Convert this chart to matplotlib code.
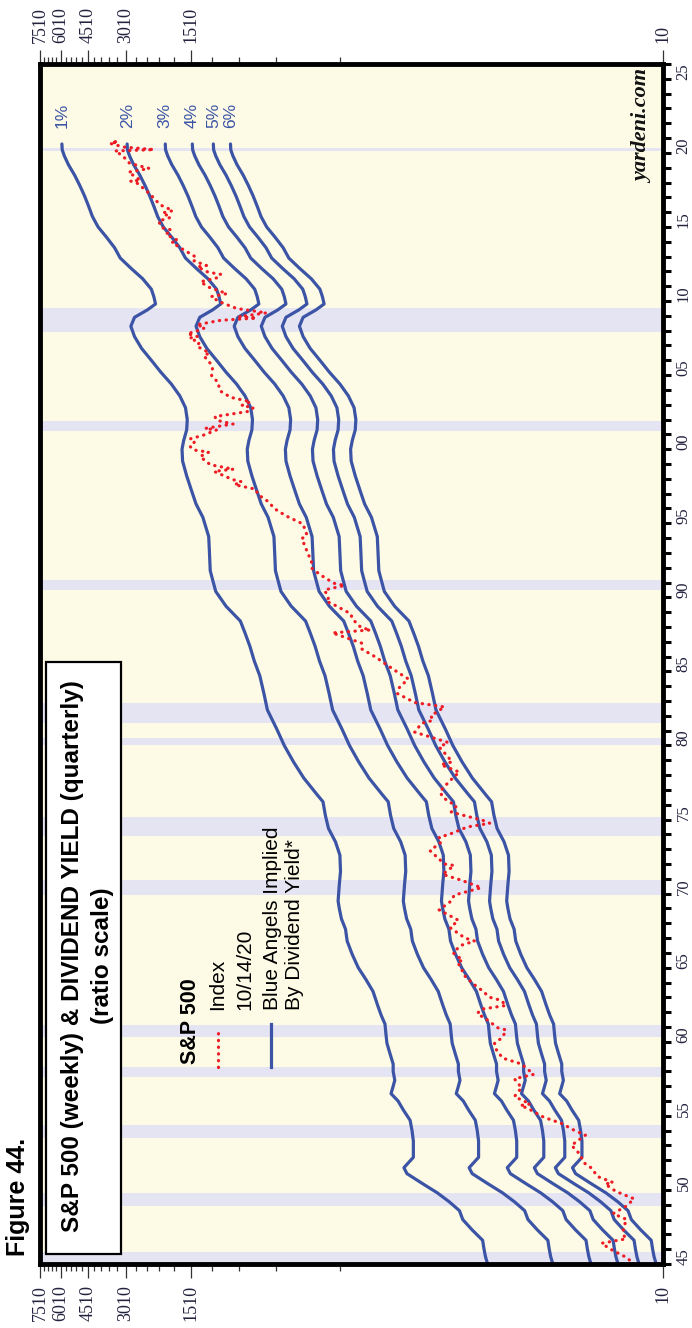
import matplotlib
matplotlib.use("Agg")
import matplotlib.pyplot as plt
from matplotlib.ticker import FixedLocator, FixedFormatter, NullFormatter
from matplotlib.patches import Rectangle
from matplotlib.lines import Line2D

# S&P 500 dividends per share
div_year = [1945.0, 1945.5, 1946.0, 1946.6, 1947.3, 1948.0, 1948.6, 1949.2, 1949.8, 1950.4,
            1951.1, 1951.5, 1952.2, 1953.3, 1954.0, 1954.7, 1955.4, 1956.0, 1956.5, 1957.0,
            1957.4, 1958.0, 1958.5, 1959.2, 1959.9, 1960.5, 1961.2, 1961.8, 1962.5, 1963.4,
            1964.2, 1965.0, 1965.9, 1966.8, 1967.6, 1968.3, 1969.0, 1969.5, 1970.6, 1971.5,
            1972.6, 1973.5, 1974.4, 1975.3, 1976.2, 1976.7, 1977.8, 1978.9, 1980.0, 1981.1,
            1982.4, 1983.5, 1984.7, 1985.7, 1986.7, 1987.6, 1988.4, 1989.4, 1990.4, 1991.2,
            1991.8, 1993.0, 1994.1, 1995.4, 1996.3, 1997.2, 1998.2, 1999.2, 2000.0, 2000.6,
            2001.3, 2002.0, 2002.8, 2003.6, 2004.4, 2005.2, 2006.0, 2006.8, 2007.6, 2008.3,
            2008.9, 2009.4, 2009.8, 2010.3, 2010.8, 2011.5, 2012.2, 2012.9, 2013.6, 2014.3,
            2015.0, 2015.7, 2016.4, 2017.1, 2017.8, 2018.5, 2019.2, 2019.8, 2020.2, 2020.6]
div_value = [0.645, 0.66, 0.67, 0.68, 0.76, 0.84, 0.87, 0.97, 1.10, 1.28,
             1.52, 1.57, 1.42, 1.42, 1.44, 1.47, 1.58, 1.67, 1.80, 1.76,
             1.73, 1.76, 1.76, 1.82, 1.88, 1.90, 1.92, 2.00, 2.08, 2.18,
             2.35, 2.55, 2.72, 2.87, 2.92, 3.05, 3.12, 3.16, 3.12, 3.08,
             3.10, 3.25, 3.50, 3.62, 3.71, 3.96, 4.55, 5.08, 5.60, 6.06,
             6.70, 6.95, 7.26, 7.70, 8.07, 8.50, 8.93, 10.4, 11.6, 12.0,
             12.3, 12.4, 12.5, 13.3, 14.3, 15.0, 15.8, 16.5, 16.6, 16.3,
             15.8, 15.7, 16.0, 17.0, 18.6, 20.8, 23.0, 25.5, 27.5, 28.6,
             27.5, 24.0, 22.0, 22.4, 23.0, 25.2, 28.5, 32.0, 34.0, 37.0,
             40.5, 43.0, 44.8, 46.8, 49.2, 52.0, 55.5, 58.0, 59.3, 59.5]
yields = [1, 2, 3, 4, 5, 6]

# S&P 500 index
idx_year = [1945.0, 1945.5, 1946.0, 1946.4, 1946.7, 1947.0, 1947.5, 1948.0, 1948.4, 1948.9,
            1949.4, 1949.9, 1950.4, 1950.5, 1950.9, 1951.5, 1951.8, 1952.5, 1952.9, 1953.0,
            1953.7, 1954.0, 1954.5, 1954.9, 1955.5, 1955.7, 1955.8, 1956.3, 1956.9, 1957.5,
            1957.8, 1958.0, 1958.5, 1958.9, 1959.5, 1959.9, 1960.3, 1960.8, 1960.95, 1961.5,
            1961.9, 1962.2, 1962.45, 1962.8, 1963.0, 1963.5, 1963.9, 1964.5, 1964.9, 1965.4,
            1965.5, 1966.0, 1966.5, 1966.8, 1967.0, 1967.7, 1968.2, 1968.9, 1969.5, 1969.9,
            1970.4, 1970.9, 1971.3, 1971.9, 1972.0, 1972.9, 1973.5, 1973.8, 1974.0, 1974.5,
            1974.75, 1974.95, 1975.5, 1975.9, 1976.5, 1976.9, 1977.5, 1977.9, 1978.2, 1978.7,
            1978.9, 1979.5, 1979.9, 1980.2, 1980.9, 1981.5, 1981.7, 1982.0, 1982.6, 1982.9,
            1983.5, 1983.9, 1984.5, 1984.9, 1985.5, 1985.95, 1986.5, 1986.9, 1987.6, 1987.8,
            1987.95, 1988.5, 1988.9, 1989.5, 1989.75, 1989.95, 1990.5, 1990.8, 1990.95, 1991.5,
            1991.95, 1992.5, 1992.95, 1993.5, 1993.95, 1994.2, 1994.95, 1995.5, 1995.95, 1996.5,
            1996.95, 1997.3, 1997.6, 1997.8, 1997.95, 1998.5, 1998.65, 1998.95, 1999.5, 1999.8,
            1999.95, 2000.2, 2000.5, 2000.7, 2000.95, 2001.3, 2001.4, 2001.7, 2001.95, 2002.2,
            2002.55, 2002.8, 2002.95, 2003.2, 2003.5, 2003.95, 2004.5, 2004.95, 2005.5, 2005.95,
            2006.3, 2006.5, 2006.95, 2007.2, 2007.5, 2007.6, 2007.8, 2008.0, 2008.2, 2008.4,
            2008.7, 2008.85, 2008.95, 2009.2, 2009.5, 2009.95, 2010.3, 2010.5, 2010.95, 2011.3,
            2011.6, 2011.8, 2011.95, 2012.3, 2012.4, 2012.7, 2012.95, 2013.5, 2013.95, 2014.1,
            2014.5, 2014.8, 2014.95, 2015.4, 2015.65, 2015.95, 2016.1, 2016.5, 2016.95, 2017.5,
            2017.95, 2018.1, 2018.15, 2018.7, 2018.95, 2019.3, 2019.6, 2019.95, 2020.13, 2020.22,
            2020.4, 2020.65, 2020.73, 2020.79]
idx_value = [13.5, 15.0, 17.5, 19.2, 14.8, 15.3, 15.2, 14.7, 17.0, 14.8,
             13.6, 16.5, 18.5, 17.0, 20.0, 21.5, 23.0, 24.5, 26.0, 26.5,
             22.8, 25.5, 29.5, 35.5, 42.0, 45.5, 41.0, 48.5, 45.0, 48.5,
             39.5, 41.0, 45.0, 55.0, 59.0, 59.9, 55.0, 53.0, 58.0, 65.0,
             72.0, 69.0, 53.0, 56.0, 63.0, 69.0, 75.0, 83.0, 85.0, 89.0,
             84.0, 93.0, 86.0, 74.0, 82.0, 96.0, 88.0, 108.0, 95.0, 92.0,
             69.0, 85.0, 104.0, 92.0, 102.0, 119.0, 105.0, 108.0, 97.0, 80.0,
             63.0, 68.0, 95.0, 90.0, 104.0, 107.0, 98.0, 92.0, 87.0, 106.0,
             94.0, 102.0, 108.0, 98.0, 140.0, 130.0, 115.0, 118.0, 102.0, 140.0,
             168.0, 165.0, 150.0, 166.0, 191.0, 211.0, 245.0, 245.0, 336.0, 224.0,
             247.0, 270.0, 277.0, 330.0, 359.0, 350.0, 365.0, 295.0, 330.0, 380.0,
             417.0, 420.0, 436.0, 450.0, 466.0, 440.0, 459.0, 550.0, 616.0, 670.0,
             741.0, 760.0, 950.0, 880.0, 970.0, 1180.0, 960.0, 1229.0, 1370.0, 1250.0,
             1469.0, 1527.0, 1450.0, 1520.0, 1320.0, 1150.0, 1300.0, 965.0, 1148.0, 1170.0,
             820.0, 777.0, 880.0, 800.0, 990.0, 1112.0, 1130.0, 1212.0, 1200.0, 1248.0,
             1320.0, 1240.0, 1418.0, 1380.0, 1530.0, 1410.0, 1565.0, 1400.0, 1300.0, 1420.0,
             1100.0, 752.0, 903.0, 677.0, 930.0, 1115.0, 1217.0, 1030.0, 1258.0, 1363.0,
             1120.0, 1099.0, 1258.0, 1410.0, 1280.0, 1460.0, 1426.0, 1650.0, 1848.0, 1740.0,
             1970.0, 1860.0, 2059.0, 2130.0, 1870.0, 2044.0, 1830.0, 2100.0, 2239.0, 2450.0,
             2674.0, 2870.0, 2580.0, 2930.0, 2351.0, 2900.0, 3020.0, 3231.0, 3386.0, 2237.0,
             3100.0, 3580.0, 3270.0, 3489.0]

recession_start = [1945.1, 1948.9, 1953.5, 1957.6, 1960.3, 1969.9, 1973.9, 1980.0, 1981.5, 1990.5, 2001.2, 2007.9, 2020.1]
recession_end = [1945.8, 1949.8, 1954.4, 1958.3, 1961.1, 1970.9, 1975.2, 1980.5, 1982.9, 1991.2, 2001.9, 2009.5, 2020.35]

value_ticks = [10, 1510, 3010, 4510, 6010, 7510]
minor_value_ticks = [10 + 300 * k for k in range(1, 25) if k % 5]
year_label_pos = [1945.5 + 5 * i for i in range(17)]
year_labels = ['45', '50', '55', '60', '65', '70', '75', '80', '85', '90',
               '95', '00', '05', '10', '15', '20', '25']

W, H = 692, 1328
BLUE = '#3c54a5'
RED = '#ee1c25'
LABEL = '#22223f'
SANS = 'Liberation Sans'


def fx(px):
    return px / W


def fy(py):
    return 1 - py / H


fig = plt.figure(figsize=(W / 100, H / 100), dpi=100)
ax = fig.add_axes([fx(40), fy(1264), (663 - 40) / W, 1200 / H])
ax.set_facecolor('#fdfbe6')

for s, e in zip(recession_start, recession_end):
    ax.axhspan(s, e, color='#e5e4f3', lw=0, zorder=0.5)

for y in yields:
    ax.plot([d * 100 / y for d in div_value], div_year, color=BLUE, lw=2.3,
            solid_capstyle='round', zorder=2)
    ax.text(div_value[-1] * 100 / y, 2022.5, f'{y}%', rotation=90, ha='center', va='center',
            color=BLUE, fontsize=12.5, family=SANS)

ax.plot(idx_value, idx_year, color=RED, lw=2.3, linestyle=(0, (0.1, 2.0)),
        dash_capstyle='round', zorder=3)

ax.set_xscale('log')
ax.set_xlim(7510, 10)
ax.set_ylim(1945, 2026)

ax.xaxis.set_major_locator(FixedLocator(value_ticks))
ax.xaxis.set_major_formatter(FixedFormatter([str(v) for v in value_ticks]))
ax.xaxis.set_minor_locator(FixedLocator(minor_value_ticks))
ax.xaxis.set_minor_formatter(NullFormatter())
ax.tick_params(axis='x', which='both', top=True, bottom=True, labeltop=True, labelbottom=True,
               direction='out', color='#333333', labelcolor=LABEL, labelrotation=90)
ax.tick_params(axis='x', which='major', length=10, width=0.9, pad=5, labelsize=13)
ax.tick_params(axis='x', which='minor', length=5, width=0.9)

ax.yaxis.set_major_locator(FixedLocator(range(1945, 2027)))
ax.yaxis.set_major_formatter(NullFormatter())
ax.yaxis.set_minor_locator(FixedLocator(year_label_pos))
ax.yaxis.set_minor_formatter(FixedFormatter(year_labels))
ax.tick_params(axis='y', which='both', left=False, right=True, labelleft=False, labelright=True)
ax.tick_params(axis='y', which='major', direction='out', length=5.5, width=2.2, color='black')
ax.tick_params(axis='y', which='minor', length=0, pad=9, labelsize=12, labelcolor=LABEL,
               labelrotation=90)

for lab in ax.get_xticklabels() + ax.get_yticklabels(minor=True):
    lab.set_family('Liberation Serif')
for lab in ax.get_yticklabels(minor=True):
    lab.set_va('center')

for sp in ax.spines.values():
    sp.set_linewidth(3.5)
    sp.set_zorder(5)

ax.text(0.985, 0.995, 'yardeni.com', transform=ax.transAxes, rotation=90, ha='right', va='top',
        style='italic', weight='bold', fontsize=16, family='Liberation Serif', color='#111111')

# title box and legend
fig.add_artist(Rectangle((fx(46), fy(1254)), (121 - 46) / W, (1254 - 662) / H,
                         transform=fig.transFigure, facecolor='white', edgecolor='black', lw=1.6))
fig.text(fx(73), fy(956), 'S&P 500 (weekly) & DIVIDEND YIELD (quarterly)', rotation=90,
         ha='center', va='center', fontsize=17.5, weight='bold', family=SANS)
fig.text(fx(102), fy(956), '(ratio scale)', rotation=90, ha='center', va='center',
         fontsize=17.5, weight='bold', family=SANS)
fig.text(fx(18), fy(1256), 'Figure 44.', rotation=90, ha='center', va='bottom',
         fontsize=18, weight='bold', family=SANS)

fig.text(fx(190), fy(1064), 'S&P 500', rotation=90, ha='center', va='bottom',
         fontsize=15.5, weight='bold', family=SANS)
fig.add_artist(Line2D([fx(218), fx(218)], [fy(1067), fy(1033)], transform=fig.transFigure,
                      color=RED, lw=2.3, linestyle=(0, (0.1, 2.0)), dash_capstyle='round'))
fig.text(fx(218), fy(1010), 'Index', rotation=90, ha='center', va='bottom',
         fontsize=15, family=SANS)
fig.text(fx(245), fy(1010), '10/14/20', rotation=90, ha='center', va='bottom',
         fontsize=15, family=SANS)
fig.add_artist(Line2D([fx(271), fx(271)], [fy(1067), fy(1024)], transform=fig.transFigure,
                      color=BLUE, lw=2.3))
fig.text(fx(273), fy(1010), 'Blue Angels Implied', rotation=90, ha='center', va='bottom',
         fontsize=15, family=SANS)
fig.text(fx(295), fy(1010), 'By Dividend Yield*', rotation=90, ha='center', va='bottom',
         fontsize=15, family=SANS)

fig.savefig('out.png', dpi=100)
